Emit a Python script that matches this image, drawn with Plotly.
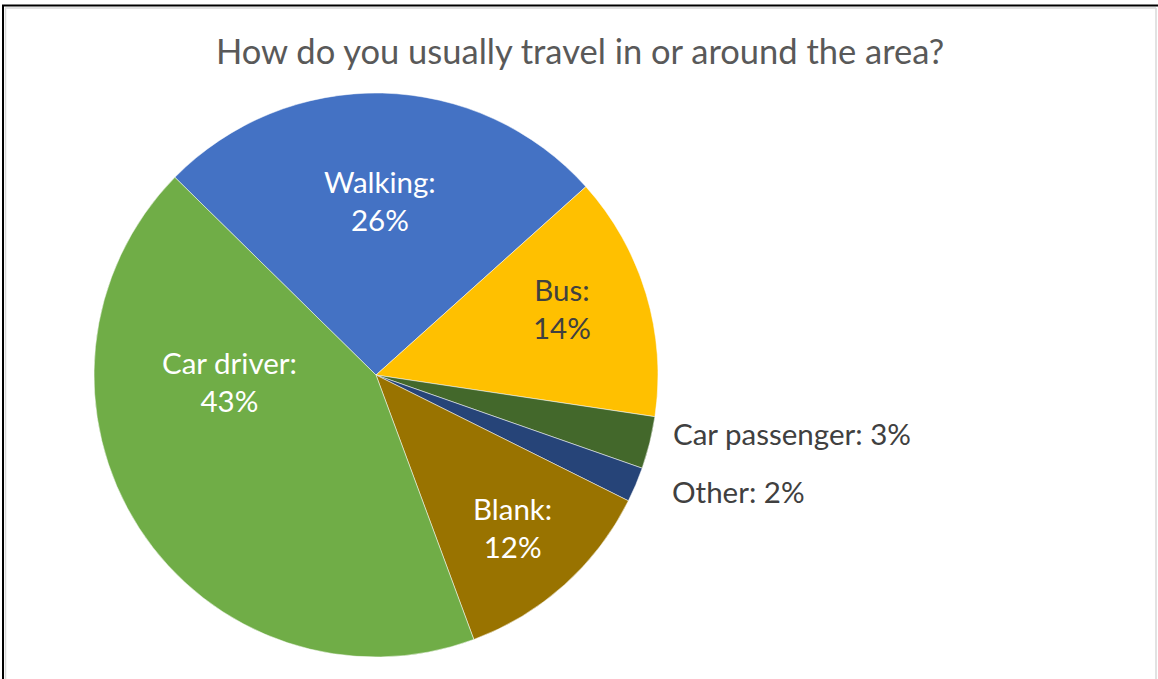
import math
import plotly.graph_objects as go

# Survey responses: share of respondents by usual mode of travel (%)
modes = ["Walking", "Bus", "Car passenger", "Other", "Blank", "Car driver"]
shares = [26, 14, 3, 2, 12, 43]
colors = ["#4472C4", "#FFC000", "#43682B", "#264478", "#997300", "#70AD47"]
label_colors = ["#FFFFFF", "#404040", "#404040", "#404040", "#FFFFFF", "#FFFFFF"]

W, H = 1158, 679
CX, CY, R = 376, 375, 282          # pie centre and radius in pixels
ROTATION = -45.5                   # first slice starts left of 12 o'clock

# label placement: (inside?, radius fraction, angle shift deg, extra dx, extra dy)
label_layout = {
    "Walking":       (True, 0.62, 0.0, 0, 0),
    "Bus":           (True, 0.70, -3.0, 0, 0),
    "Car passenger": (False, 1.0, 0.0, 21, -9),
    "Other":         (False, 1.0, 0.0, 34, 7),
    "Blank":         (True, 0.73, 0.5, 0, -2),
    "Car driver":    (True, 0.52, 30.5, 0, 0),
}

FONT = "Lato, Open Sans, sans-serif"


def px(x):
    return x / W


def py(y):
    return 1 - y / H


fig = go.Figure(
    go.Pie(
        labels=modes,
        values=shares,
        sort=False,
        direction="clockwise",
        rotation=ROTATION,
        marker=dict(colors=colors, line=dict(color="#FFFFFF", width=0.5)),
        textinfo="none",
        hoverinfo="label+percent",
        showlegend=False,
        domain=dict(x=[px(CX - R), px(CX + R)], y=[py(CY + R), py(CY - R)]),
    )
)

annotations = []
total = sum(shares)
start = ROTATION
for name, val, tc in zip(modes, shares, label_colors):
    span = val / total * 360
    mid = start + span / 2
    start += span
    inside, rf, shift, dx, dy = label_layout[name]
    theta = math.radians(mid + shift)
    x = CX + rf * R * math.sin(theta) + dx
    y = CY - rf * R * math.cos(theta) + dy
    if inside:
        text = f"{name}:<br>{val}%"
        xa = "center"
    else:
        text = f"{name}: {val}%"
        xa = "left"
    annotations.append(
        dict(
            x=px(x), y=py(y), xref="paper", yref="paper",
            text=text, showarrow=False, xanchor=xa, yanchor="middle",
            font=dict(family=FONT, size=29.5, color=tc),
        )
    )

annotations.append(
    dict(
        x=px(580), y=py(51), xref="paper", yref="paper",
        text="How do you usually travel in or around the area?",
        showarrow=False, xanchor="center", yanchor="middle",
        font=dict(family=FONT, size=34.5, color="#595959"),
    )
)

# chart frame
shapes = [
    dict(type="line", xref="paper", yref="paper", x0=px(2), x1=px(1158), y0=py(5.5), y1=py(5.5),
         line=dict(color="#000000", width=2)),
    dict(type="line", xref="paper", yref="paper", x0=px(3), x1=px(3), y0=py(5), y1=py(679),
         line=dict(color="#000000", width=2)),
    dict(type="line", xref="paper", yref="paper", x0=px(5), x1=px(1156), y0=py(8), y1=py(8),
         line=dict(color="#D9D9D9", width=1.5)),
    dict(type="line", xref="paper", yref="paper", x0=px(5.5), x1=px(5.5), y0=py(8), y1=py(679),
         line=dict(color="#D9D9D9", width=1.5)),
    dict(type="line", xref="paper", yref="paper", x0=px(1156), x1=px(1156), y0=py(8), y1=py(679),
         line=dict(color="#D9D9D9", width=1.5)),
]

fig.update_layout(
    width=W, height=H,
    margin=dict(l=0, r=0, t=0, b=0),
    paper_bgcolor="#FFFFFF",
    plot_bgcolor="#FFFFFF",
    annotations=annotations,
    shapes=shapes,
)

fig.write_html("out.html")
